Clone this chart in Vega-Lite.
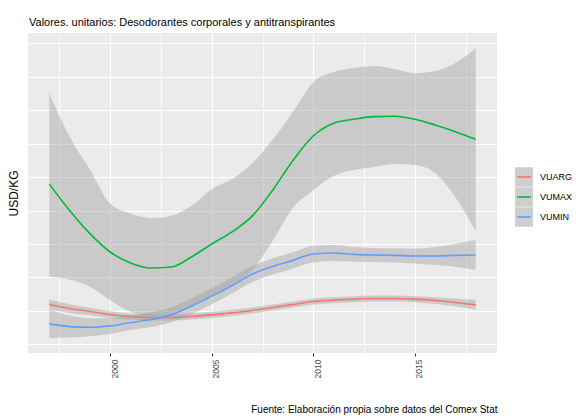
{
  "$schema": "https://vega.github.io/schema/vega-lite/v6.json",
  "width": 469,
  "height": 320,
  "autosize": {"type": "none"},
  "padding": {"left": 28, "top": 33, "right": 91, "bottom": 64},
  "background": "#FFFFFF",
  "config": {"view": {"fill": "#EBEBEB", "stroke": null}, "font": "Liberation Sans"},
  "title": {"text": "Valores. unitarios: Desodorantes corporales y antitranspirantes", "anchor": "start", "frame": "group", "fontSize": 11, "fontWeight": "normal", "color": "#000000", "font": "Liberation Sans", "offset": 5, "dx": 1},
  "datasets": {
    "fits": [
      {"year": 1997, "series": "VUARG", "value": 1.19}, {"year": 1998, "series": "VUARG", "value": 1.07}, {"year": 1999, "series": "VUARG", "value": 0.98}, {"year": 2000, "series": "VUARG", "value": 0.89}, {"year": 2001, "series": "VUARG", "value": 0.83}, {"year": 2002, "series": "VUARG", "value": 0.80}, {"year": 2003, "series": "VUARG", "value": 0.80}, {"year": 2004, "series": "VUARG", "value": 0.83}, {"year": 2005, "series": "VUARG", "value": 0.88}, {"year": 2006, "series": "VUARG", "value": 0.94}, {"year": 2007, "series": "VUARG", "value": 1.01}, {"year": 2008, "series": "VUARG", "value": 1.10}, {"year": 2009, "series": "VUARG", "value": 1.19}, {"year": 2010, "series": "VUARG", "value": 1.28}, {"year": 2011, "series": "VUARG", "value": 1.32}, {"year": 2012, "series": "VUARG", "value": 1.35}, {"year": 2013, "series": "VUARG", "value": 1.37}, {"year": 2014, "series": "VUARG", "value": 1.37}, {"year": 2015, "series": "VUARG", "value": 1.35}, {"year": 2016, "series": "VUARG", "value": 1.31}, {"year": 2017, "series": "VUARG", "value": 1.25}, {"year": 2018, "series": "VUARG", "value": 1.18},
      {"year": 1997, "series": "VUMAX", "value": 4.79}, {"year": 1998, "series": "VUMAX", "value": 4.00}, {"year": 1999, "series": "VUMAX", "value": 3.31}, {"year": 2000, "series": "VUMAX", "value": 2.76}, {"year": 2001, "series": "VUMAX", "value": 2.43}, {"year": 2002, "series": "VUMAX", "value": 2.28}, {"year": 2003, "series": "VUMAX", "value": 2.31}, {"year": 2004, "series": "VUMAX", "value": 2.61}, {"year": 2005, "series": "VUMAX", "value": 3.00}, {"year": 2006, "series": "VUMAX", "value": 3.36}, {"year": 2007, "series": "VUMAX", "value": 3.84}, {"year": 2008, "series": "VUMAX", "value": 4.61}, {"year": 2009, "series": "VUMAX", "value": 5.50}, {"year": 2010, "series": "VUMAX", "value": 6.23}, {"year": 2011, "series": "VUMAX", "value": 6.61}, {"year": 2012, "series": "VUMAX", "value": 6.73}, {"year": 2013, "series": "VUMAX", "value": 6.81}, {"year": 2014, "series": "VUMAX", "value": 6.82}, {"year": 2015, "series": "VUMAX", "value": 6.73}, {"year": 2016, "series": "VUMAX", "value": 6.56}, {"year": 2017, "series": "VUMAX", "value": 6.36}, {"year": 2018, "series": "VUMAX", "value": 6.13},
      {"year": 1997, "series": "VUMIN", "value": 0.61}, {"year": 1998, "series": "VUMIN", "value": 0.53}, {"year": 1999, "series": "VUMIN", "value": 0.51}, {"year": 2000, "series": "VUMIN", "value": 0.55}, {"year": 2001, "series": "VUMIN", "value": 0.65}, {"year": 2002, "series": "VUMIN", "value": 0.74}, {"year": 2003, "series": "VUMIN", "value": 0.88}, {"year": 2004, "series": "VUMIN", "value": 1.14}, {"year": 2005, "series": "VUMIN", "value": 1.44}, {"year": 2006, "series": "VUMIN", "value": 1.76}, {"year": 2007, "series": "VUMIN", "value": 2.10}, {"year": 2008, "series": "VUMIN", "value": 2.33}, {"year": 2009, "series": "VUMIN", "value": 2.51}, {"year": 2010, "series": "VUMIN", "value": 2.70}, {"year": 2011, "series": "VUMIN", "value": 2.73}, {"year": 2012, "series": "VUMIN", "value": 2.69}, {"year": 2013, "series": "VUMIN", "value": 2.67}, {"year": 2014, "series": "VUMIN", "value": 2.66}, {"year": 2015, "series": "VUMIN", "value": 2.64}, {"year": 2016, "series": "VUMIN", "value": 2.64}, {"year": 2017, "series": "VUMIN", "value": 2.66}, {"year": 2018, "series": "VUMIN", "value": 2.67}
    ],
    "bands": [
      {"year": 1997, "series": "VUARG", "lo": 1.04, "hi": 1.34}, {"year": 1998, "series": "VUARG", "lo": 0.94, "hi": 1.20}, {"year": 1999, "series": "VUARG", "lo": 0.87, "hi": 1.09}, {"year": 2000, "series": "VUARG", "lo": 0.79, "hi": 0.99}, {"year": 2001, "series": "VUARG", "lo": 0.74, "hi": 0.92}, {"year": 2002, "series": "VUARG", "lo": 0.71, "hi": 0.89}, {"year": 2003, "series": "VUARG", "lo": 0.71, "hi": 0.89}, {"year": 2004, "series": "VUARG", "lo": 0.74, "hi": 0.92}, {"year": 2005, "series": "VUARG", "lo": 0.79, "hi": 0.97}, {"year": 2006, "series": "VUARG", "lo": 0.85, "hi": 1.03}, {"year": 2007, "series": "VUARG", "lo": 0.92, "hi": 1.10}, {"year": 2008, "series": "VUARG", "lo": 1.01, "hi": 1.19}, {"year": 2009, "series": "VUARG", "lo": 1.10, "hi": 1.28}, {"year": 2010, "series": "VUARG", "lo": 1.19, "hi": 1.37}, {"year": 2011, "series": "VUARG", "lo": 1.23, "hi": 1.41}, {"year": 2012, "series": "VUARG", "lo": 1.26, "hi": 1.44}, {"year": 2013, "series": "VUARG", "lo": 1.28, "hi": 1.46}, {"year": 2014, "series": "VUARG", "lo": 1.28, "hi": 1.46}, {"year": 2015, "series": "VUARG", "lo": 1.26, "hi": 1.44}, {"year": 2016, "series": "VUARG", "lo": 1.21, "hi": 1.41}, {"year": 2017, "series": "VUARG", "lo": 1.13, "hi": 1.37}, {"year": 2018, "series": "VUARG", "lo": 1.03, "hi": 1.33},
      {"year": 1997, "series": "VUMAX", "lo": 2.02, "hi": 7.51}, {"year": 1998, "series": "VUMAX", "lo": 1.94, "hi": 6.21}, {"year": 1999, "series": "VUMAX", "lo": 1.72, "hi": 5.23}, {"year": 2000, "series": "VUMAX", "lo": 1.32, "hi": 4.20}, {"year": 2001, "series": "VUMAX", "lo": 0.97, "hi": 3.91}, {"year": 2002, "series": "VUMAX", "lo": 0.85, "hi": 3.78}, {"year": 2003, "series": "VUMAX", "lo": 0.90, "hi": 3.84}, {"year": 2004, "series": "VUMAX", "lo": 1.15, "hi": 4.14}, {"year": 2005, "series": "VUMAX", "lo": 1.45, "hi": 4.64}, {"year": 2006, "series": "VUMAX", "lo": 1.80, "hi": 4.94}, {"year": 2007, "series": "VUMAX", "lo": 2.22, "hi": 5.42}, {"year": 2008, "series": "VUMAX", "lo": 3.10, "hi": 6.12}, {"year": 2009, "series": "VUMAX", "lo": 4.08, "hi": 6.95}, {"year": 2010, "series": "VUMAX", "lo": 4.61, "hi": 7.84}, {"year": 2011, "series": "VUMAX", "lo": 5.03, "hi": 8.14}, {"year": 2012, "series": "VUMAX", "lo": 5.21, "hi": 8.26}, {"year": 2013, "series": "VUMAX", "lo": 5.30, "hi": 8.32}, {"year": 2014, "series": "VUMAX", "lo": 5.39, "hi": 8.23}, {"year": 2015, "series": "VUMAX", "lo": 5.36, "hi": 8.11}, {"year": 2016, "series": "VUMAX", "lo": 5.12, "hi": 8.17}, {"year": 2017, "series": "VUMAX", "lo": 4.40, "hi": 8.41}, {"year": 2018, "series": "VUMAX", "lo": 3.39, "hi": 8.86},
      {"year": 1997, "series": "VUMIN", "lo": 0.19, "hi": 1.03}, {"year": 1998, "series": "VUMIN", "lo": 0.20, "hi": 0.86}, {"year": 1999, "series": "VUMIN", "lo": 0.24, "hi": 0.78}, {"year": 2000, "series": "VUMIN", "lo": 0.31, "hi": 0.79}, {"year": 2001, "series": "VUMIN", "lo": 0.43, "hi": 0.87}, {"year": 2002, "series": "VUMIN", "lo": 0.52, "hi": 0.96}, {"year": 2003, "series": "VUMIN", "lo": 0.66, "hi": 1.10}, {"year": 2004, "series": "VUMIN", "lo": 0.90, "hi": 1.38}, {"year": 2005, "series": "VUMIN", "lo": 1.20, "hi": 1.68}, {"year": 2006, "series": "VUMIN", "lo": 1.52, "hi": 2.00}, {"year": 2007, "series": "VUMIN", "lo": 1.86, "hi": 2.34}, {"year": 2008, "series": "VUMIN", "lo": 2.09, "hi": 2.57}, {"year": 2009, "series": "VUMIN", "lo": 2.27, "hi": 2.75}, {"year": 2010, "series": "VUMIN", "lo": 2.45, "hi": 2.95}, {"year": 2011, "series": "VUMIN", "lo": 2.49, "hi": 2.97}, {"year": 2012, "series": "VUMIN", "lo": 2.47, "hi": 2.91}, {"year": 2013, "series": "VUMIN", "lo": 2.46, "hi": 2.88}, {"year": 2014, "series": "VUMIN", "lo": 2.45, "hi": 2.87}, {"year": 2015, "series": "VUMIN", "lo": 2.42, "hi": 2.86}, {"year": 2016, "series": "VUMIN", "lo": 2.37, "hi": 2.91}, {"year": 2017, "series": "VUMIN", "lo": 2.32, "hi": 3.00}, {"year": 2018, "series": "VUMIN", "lo": 2.22, "hi": 3.12}
    ]
  },
  "encoding": {
    "x": {
      "field": "year", "type": "quantitative",
      "scale": {"domain": [1995.95, 2019.05], "nice": false, "zero": false},
      "axis": {
        "title": "Fuente: Elaboración propia sobre datos del Comex Stat",
        "titleAnchor": "end", "titleAlign": "right", "titleBaseline": "alphabetic", "titleY": 59.5,
        "titleFontSize": 10, "titleFontWeight": "normal", "titleColor": "#000000", "titleFont": "Liberation Sans",
        "values": [1997.5, 2000, 2002.5, 2005, 2007.5, 2010, 2012.5, 2015, 2017.5],
        "format": "d",
        "labelExpr": "datum.value % 5 === 0 ? datum.label : ''",
        "labelAngle": 270, "labelAlign": "right", "labelBaseline": "top", "labelPadding": 3,
        "labelFontSize": 8.5, "labelColor": "#4D4D4D", "labelFont": "Liberation Sans",
        "labelFlush": false, "labelOverlap": false,
        "domain": false,
        "ticks": true, "tickSize": 3, "tickColor": "#333333", "tickWidth": 1,
        "tickOpacity": {"condition": {"test": "datum.value % 5 === 0", "value": 1}, "value": 0},
        "grid": true, "gridColor": "#FFFFFF", "gridOpacity": 1,
        "gridWidth": {"condition": {"test": "datum.value % 5 === 0", "value": 1.1}, "value": 0.8}
      }
    }
  },
  "layer": [
    {
      "data": {"name": "bands"},
      "transform": [{"filter": "datum.series === 'VUARG'"}],
      "mark": {"type": "area", "interpolate": "monotone", "opacity": 0.4},
      "encoding": {
        "y": {"field": "lo", "type": "quantitative", "title": "USD/KG", "scale": {"domain": [-0.26, 9.31], "nice": false, "zero": false},
          "axis": {"title": "USD/KG", "values": [0, 1, 2, 3, 4, 5, 6, 7, 8, 9], "labels": false, "ticks": false, "domain": false, "grid": true, "gridColor": "#FFFFFF", "gridWidth": 1, "gridOpacity": 1, "titleFontSize": 12, "titleFontWeight": "normal", "titleColor": "#000000", "titleFont": "Liberation Sans", "titlePadding": 8}},
        "y2": {"field": "hi"},
        "fill": {"field": "series", "type": "nominal", "scale": {"range": ["#999999", "#999999", "#999999"]},
          "legend": {"orient": "none", "legendX": 486, "legendY": 134, "title": null, "symbolType": "M-0.92,-1H0.92V1H-0.92Z", "symbolSize": 380, "symbolOpacity": 0.48, "symbolStrokeColor": "transparent", "symbolStrokeWidth": 0, "rowPadding": 0, "padding": 0, "labelExpr": "''", "labelFontSize": 9, "labelOffset": 6, "zindex": 1}}
      }
    },
    {
      "data": {"name": "fits"},
      "transform": [{"filter": "datum.series === 'VUARG'"}],
      "mark": {"type": "line", "interpolate": "monotone", "strokeWidth": 1.6},
      "encoding": {
        "y": {"field": "value", "type": "quantitative", "title": "USD/KG", "scale": {"domain": [-0.26, 9.31], "nice": false, "zero": false},
          "axis": {"title": "USD/KG", "values": [0, 1, 2, 3, 4, 5, 6, 7, 8, 9], "labels": false, "ticks": false, "domain": false, "grid": true, "gridColor": "#FFFFFF", "gridWidth": 1, "gridOpacity": 1, "titleFontSize": 12, "titleFontWeight": "normal", "titleColor": "#000000", "titleFont": "Liberation Sans", "titlePadding": 8}},
        "color": {"field": "series", "type": "nominal", "scale": {"range": ["#F8766D", "#00BA38", "#619CFF"]},
          "legend": {"orient": "none", "legendX": 486, "legendY": 134, "title": null, "symbolType": "M-0.76,0H0.76", "symbolSize": 338, "symbolStrokeWidth": 1.6, "rowPadding": 5, "padding": 0, "labelFontSize": 9, "labelColor": "#000000", "labelFont": "Liberation Sans", "labelOffset": 6, "zindex": 2}}
      }
    },
    {
      "data": {"name": "bands"},
      "transform": [{"filter": "datum.series === 'VUMAX'"}],
      "mark": {"type": "area", "interpolate": "monotone", "opacity": 0.4},
      "encoding": {
        "y": {"field": "lo", "type": "quantitative", "title": "USD/KG", "scale": {"domain": [-0.26, 9.31], "nice": false, "zero": false},
          "axis": {"title": "USD/KG", "values": [0, 1, 2, 3, 4, 5, 6, 7, 8, 9], "labels": false, "ticks": false, "domain": false, "grid": true, "gridColor": "#FFFFFF", "gridWidth": 1, "gridOpacity": 1, "titleFontSize": 12, "titleFontWeight": "normal", "titleColor": "#000000", "titleFont": "Liberation Sans", "titlePadding": 8}},
        "y2": {"field": "hi"},
        "fill": {"field": "series", "type": "nominal", "scale": {"range": ["#999999", "#999999", "#999999"]},
          "legend": {"orient": "none", "legendX": 486, "legendY": 134, "title": null, "symbolType": "M-0.92,-1H0.92V1H-0.92Z", "symbolSize": 380, "symbolOpacity": 0.48, "symbolStrokeColor": "transparent", "symbolStrokeWidth": 0, "rowPadding": 0, "padding": 0, "labelExpr": "''", "labelFontSize": 9, "labelOffset": 6, "zindex": 1}}
      }
    },
    {
      "data": {"name": "fits"},
      "transform": [{"filter": "datum.series === 'VUMAX'"}],
      "mark": {"type": "line", "interpolate": "monotone", "strokeWidth": 1.6},
      "encoding": {
        "y": {"field": "value", "type": "quantitative", "title": "USD/KG", "scale": {"domain": [-0.26, 9.31], "nice": false, "zero": false},
          "axis": {"title": "USD/KG", "values": [0, 1, 2, 3, 4, 5, 6, 7, 8, 9], "labels": false, "ticks": false, "domain": false, "grid": true, "gridColor": "#FFFFFF", "gridWidth": 1, "gridOpacity": 1, "titleFontSize": 12, "titleFontWeight": "normal", "titleColor": "#000000", "titleFont": "Liberation Sans", "titlePadding": 8}},
        "color": {"field": "series", "type": "nominal", "scale": {"range": ["#F8766D", "#00BA38", "#619CFF"]},
          "legend": {"orient": "none", "legendX": 486, "legendY": 134, "title": null, "symbolType": "M-0.76,0H0.76", "symbolSize": 338, "symbolStrokeWidth": 1.6, "rowPadding": 5, "padding": 0, "labelFontSize": 9, "labelColor": "#000000", "labelFont": "Liberation Sans", "labelOffset": 6, "zindex": 2}}
      }
    },
    {
      "data": {"name": "bands"},
      "transform": [{"filter": "datum.series === 'VUMIN'"}],
      "mark": {"type": "area", "interpolate": "monotone", "opacity": 0.4},
      "encoding": {
        "y": {"field": "lo", "type": "quantitative", "title": "USD/KG", "scale": {"domain": [-0.26, 9.31], "nice": false, "zero": false},
          "axis": {"title": "USD/KG", "values": [0, 1, 2, 3, 4, 5, 6, 7, 8, 9], "labels": false, "ticks": false, "domain": false, "grid": true, "gridColor": "#FFFFFF", "gridWidth": 1, "gridOpacity": 1, "titleFontSize": 12, "titleFontWeight": "normal", "titleColor": "#000000", "titleFont": "Liberation Sans", "titlePadding": 8}},
        "y2": {"field": "hi"},
        "fill": {"field": "series", "type": "nominal", "scale": {"range": ["#999999", "#999999", "#999999"]},
          "legend": {"orient": "none", "legendX": 486, "legendY": 134, "title": null, "symbolType": "M-0.92,-1H0.92V1H-0.92Z", "symbolSize": 380, "symbolOpacity": 0.48, "symbolStrokeColor": "transparent", "symbolStrokeWidth": 0, "rowPadding": 0, "padding": 0, "labelExpr": "''", "labelFontSize": 9, "labelOffset": 6, "zindex": 1}}
      }
    },
    {
      "data": {"name": "fits"},
      "transform": [{"filter": "datum.series === 'VUMIN'"}],
      "mark": {"type": "line", "interpolate": "monotone", "strokeWidth": 1.6},
      "encoding": {
        "y": {"field": "value", "type": "quantitative", "title": "USD/KG", "scale": {"domain": [-0.26, 9.31], "nice": false, "zero": false},
          "axis": {"title": "USD/KG", "values": [0, 1, 2, 3, 4, 5, 6, 7, 8, 9], "labels": false, "ticks": false, "domain": false, "grid": true, "gridColor": "#FFFFFF", "gridWidth": 1, "gridOpacity": 1, "titleFontSize": 12, "titleFontWeight": "normal", "titleColor": "#000000", "titleFont": "Liberation Sans", "titlePadding": 8}},
        "color": {"field": "series", "type": "nominal", "scale": {"range": ["#F8766D", "#00BA38", "#619CFF"]},
          "legend": {"orient": "none", "legendX": 486, "legendY": 134, "title": null, "symbolType": "M-0.76,0H0.76", "symbolSize": 338, "symbolStrokeWidth": 1.6, "rowPadding": 5, "padding": 0, "labelFontSize": 9, "labelColor": "#000000", "labelFont": "Liberation Sans", "labelOffset": 6, "zindex": 2}}
      }
    }
  ]
}
